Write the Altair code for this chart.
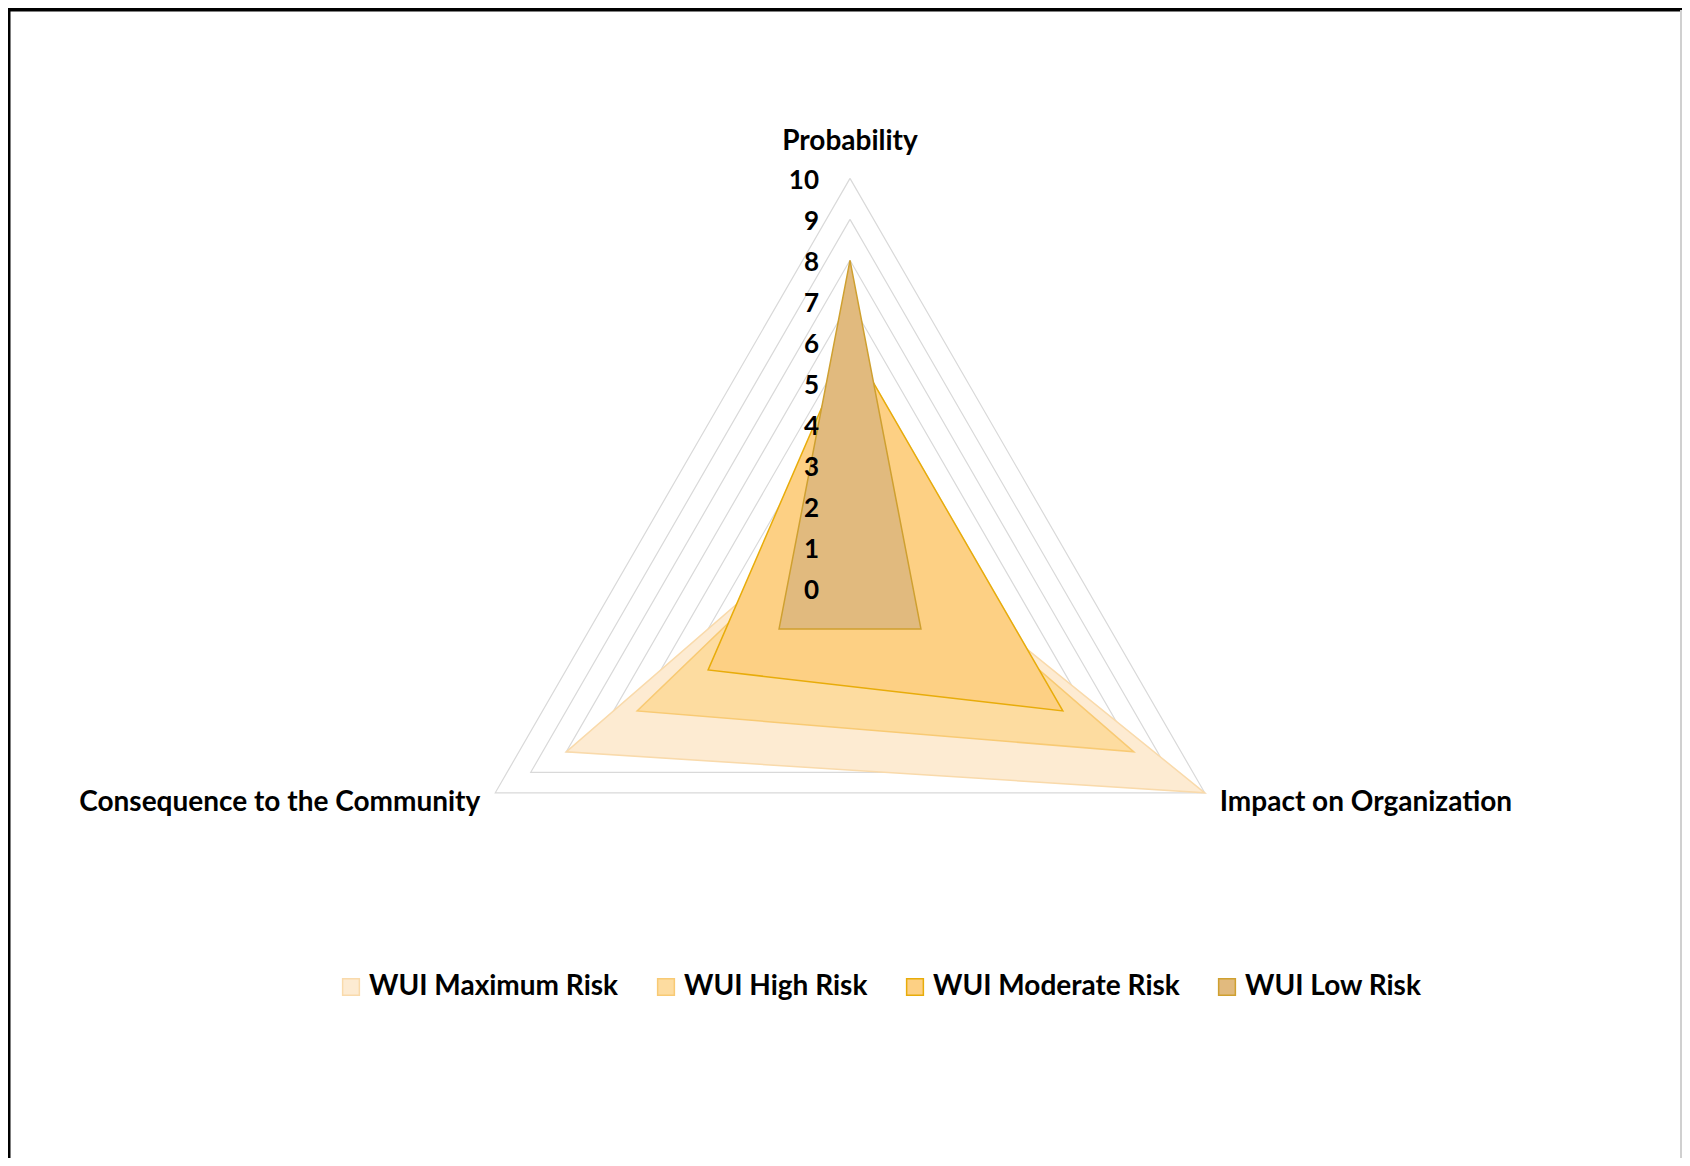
import altair as alt
import pandas as pd

# ---------------- data ----------------
axis_names = ["Probability", "Impact on Organization", "Consequence to the Community"]
axis_angles = [90, -30, 210]          # degrees, counter-clockwise from east
series_names = ["WUI Maximum Risk", "WUI High Risk", "WUI Moderate Risk", "WUI Low Risk"]
probability = [2, 2, 6, 8]
impact = [10, 8, 6, 2]
consequence = [8, 6, 4, 2]
tick_values = list(range(0, 11))
grid_levels = list(range(1, 11))

fill_colors = ["#FDEBD2", "#FDDCA0", "#FDD084", "#E1BA7E"]
stroke_colors = ["#F9DAAB", "#F8CA74", "#E8AC0A", "#CFA030"]

# ---------------- layout ----------------
W, H = 1674, 1150
unit = 40.96
cx, cy = 842, 580
xs = alt.Scale(domain=[-cx / unit, (W - cx) / unit], nice=False, zero=False)
ys = alt.Scale(domain=[-(H - cy) / unit, cy / unit], nice=False, zero=False)
FONT = "Lato"

# polygon rows
rows = []
for s, name in enumerate(series_names):
    vals = [probability[s], impact[s], consequence[s]]
    for i in range(4):
        k = i % 3
        rows.append({"series": name, "ord": i, "angle": axis_angles[k], "value": vals[k]})
poly_df = pd.DataFrame(rows)

grid_rows = []
for lv in grid_levels:
    for i in range(4):
        k = i % 3
        grid_rows.append({"level": lv, "ord": i, "angle": axis_angles[k], "value": lv})
grid_df = pd.DataFrame(grid_rows)

tick_df = pd.DataFrame({"value": tick_values, "angle": [90] * len(tick_values)})
lab_df = pd.DataFrame({"name": axis_names, "angle": axis_angles, "value": [10, 10, 10]})

def polar(ch):
    return ch.transform_calculate(
        x="datum.value * cos(datum.angle * PI / 180)",
        y="datum.value * sin(datum.angle * PI / 180)",
    )

X = alt.X("x:Q", scale=xs, axis=None)
Y = alt.Y("y:Q", scale=ys, axis=None)

grid = polar(alt.Chart(grid_df)).mark_line(stroke="#D9D9D9", strokeWidth=1.2).encode(
    x=X, y=Y, detail="level:N", order="ord:Q"
)

fill_scale = alt.Scale(domain=series_names, range=fill_colors)
stroke_scale = alt.Scale(domain=series_names, range=stroke_colors)
legend = alt.Legend(
    title=None, orient="none", direction="horizontal", columns=4,
    legendX=329, legendY=965, symbolType="square", symbolSize=280,
    symbolStrokeWidth=1.5, labelFont=FONT, labelFontSize=28, labelFontWeight="bold",
    labelColor="black", columnPadding=33, symbolOffset=0, labelOffset=4,
    labelLimit=500,
)

poly_layers = []
for name in series_names:
    poly_layers.append(
        polar(alt.Chart(poly_df)).transform_filter(alt.datum.series == name)
        .mark_line(strokeWidth=1.5)
        .encode(
            x=X, y=Y, order="ord:Q",
            fill=alt.Fill("series:N", scale=fill_scale, legend=legend),
            stroke=alt.Stroke("series:N", scale=stroke_scale, legend=legend),
        )
    )

ticks = polar(alt.Chart(tick_df)).mark_text(
    font=FONT, fontSize=26, fontWeight="bold", align="right", baseline="middle",
    dx=-31, dy=3, color="black"
).encode(x=X, y=Y, text="value:Q")

lab_top = polar(alt.Chart(lab_df)).transform_filter(alt.datum.angle == 90).mark_text(
    font=FONT, fontSize=28, fontWeight="bold", align="center", baseline="middle",
    dy=-36, color="black"
).encode(x=X, y=Y, text="name:N")
lab_right = polar(alt.Chart(lab_df)).transform_filter(alt.datum.angle == -30).mark_text(
    font=FONT, fontSize=28, fontWeight="bold", align="left", baseline="middle",
    dx=15, dy=10, color="black"
).encode(x=X, y=Y, text="name:N")
lab_left = polar(alt.Chart(lab_df)).transform_filter(alt.datum.angle == 210).mark_text(
    font=FONT, fontSize=28, fontWeight="bold", align="right", baseline="middle",
    dx=-15, dy=10, color="black"
).encode(x=X, y=Y, text="name:N")

frame_df = pd.DataFrame({"k": [0]})
top_border = alt.Chart(frame_df).mark_rule(color="black", strokeWidth=5).encode(
    x=alt.value(0), x2=alt.value(W), y=alt.value(1)
)
left_border = alt.Chart(frame_df).mark_rule(color="black", strokeWidth=3).encode(
    x=alt.value(1), y=alt.value(0), y2=alt.value(H)
)
right_border = alt.Chart(frame_df).mark_rule(color="#D0D0D0", strokeWidth=2).encode(
    x=alt.value(W - 1), y=alt.value(2), y2=alt.value(H)
)

chart = alt.layer(
    grid, *poly_layers, ticks, lab_top, lab_right, lab_left,
    top_border, left_border, right_border
).properties(
    width=W, height=H, padding=0,
    autosize=alt.AutoSizeParams(type="none"),
).configure_view(stroke=None).configure(background="white")

chart.save("out.html", embed_options={"renderer": "svg", "actions": False})
